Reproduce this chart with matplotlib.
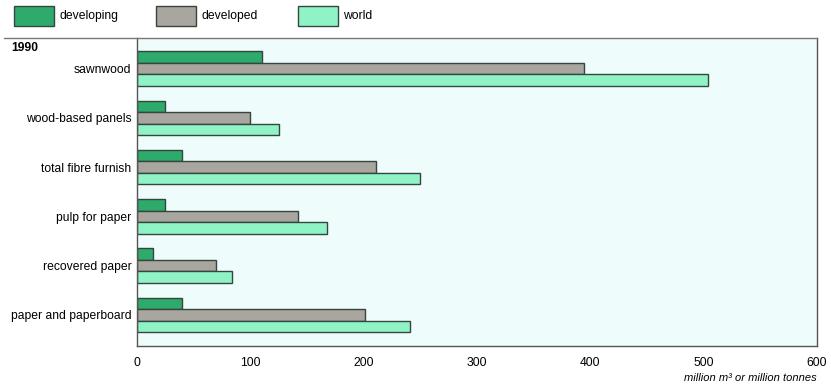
import numpy as np
import matplotlib
matplotlib.use("Agg")
import matplotlib.pyplot as plt
from matplotlib.patches import Rectangle
from matplotlib.lines import Line2D

plt.rcParams['font.family'] = ['Liberation Sans', 'DejaVu Sans']

categories = ["sawnwood", "wood-based panels", "total fibre furnish",
              "pulp for paper", "recovered paper", "paper and paperboard"]
developing = [110, 25, 40, 25, 14, 40]
developed = [394, 100, 211, 142, 70, 201]
world = [504, 125, 250, 168, 84, 241]
series_names = ["developing", "developed", "world"]
xticks = [0, 100, 200, 300, 400, 500, 600]

colors = ["#2eaa6c", "#a8a69f", "#8ff3c6"]
edge = "#34463e"

fig = plt.figure(figsize=(8.31, 3.87), dpi=100)
ax = fig.add_axes([0.1649, 0.1059, 0.9832 - 0.1649, 0.9018 - 0.1059])
ax.set_facecolor("#eefcfb")

y = np.arange(len(categories))
h = 0.233
for k, (vals, col) in enumerate(zip([developing, developed, world], colors)):
    ax.barh(y + (k - 1) * h, vals, height=h, color=col, edgecolor=edge,
            linewidth=1.0)

ax.set_xlim(0, 600)
ax.set_ylim(5.63, -0.62)
ax.set_yticks(y)
ax.set_yticklabels(categories, fontsize=8.7)
ax.set_xticks(xticks)
ax.set_xticklabels([str(t) for t in xticks], fontsize=8.7)
ax.tick_params(length=0)
ax.tick_params(axis='y', pad=4)
ax.tick_params(axis='x', pad=8)
for s in ["left", "bottom", "right"]:
    ax.spines[s].set_color("#555555")
    ax.spines[s].set_linewidth(1.0)
ax.spines["top"].set_visible(False)

# top rule across the figure
fig.add_artist(Line2D([0.005, 0.9832], [0.9018, 0.9018], color="#777777",
                      linewidth=1.0, transform=fig.transFigure))

fig.text(0.013, 0.876, "1990", fontsize=8.7, fontweight="bold", va="center")
fig.text(0.9832, 1 - 378 / 387, "million m\u00b3 or million tonnes", fontsize=8,
         style="italic", ha="right", va="center")

# legend
lx = [14, 156, 298]
for x0, name, col in zip(lx, series_names, colors):
    fig.add_artist(Rectangle((x0 / 831, 1 - 26 / 387), 40 / 831, 20 / 387,
                             facecolor=col, edgecolor=edge, linewidth=1.0,
                             transform=fig.transFigure))
    fig.text((x0 + 45) / 831, 1 - 16 / 387, name, fontsize=8.7, va="center")

fig.savefig("out.png", dpi=100)
